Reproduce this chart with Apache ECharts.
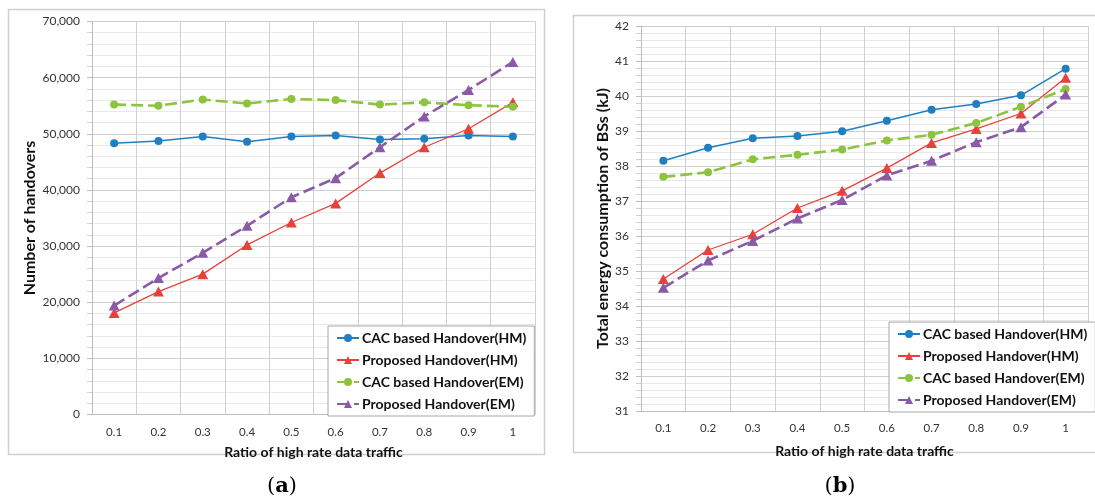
<!DOCTYPE html>
<html>
<head>
<meta charset="utf-8">
<script src="https://cdn.jsdelivr.net/npm/echarts@6/dist/echarts.min.js"></script>
<style>
html,body{margin:0;padding:0;background:#fff;}
#chart{width:1095px;height:500px;}
</style>
</head>
<body>
<div id="chart"></div>
<script>
// ---- data ----
var categories = ['0.1','0.2','0.3','0.4','0.5','0.6','0.7','0.8','0.9','1'];
var seriesNames = ['CAC based Handover(HM)','Proposed Handover(HM)','CAC based Handover(EM)','Proposed Handover(EM)'];

// (a) Number of handovers
var handoverCacHM  = [48300, 48700, 49500, 48600, 49500, 49700, 49000, 49100, 49700, 49500];
var handoverPropHM = [18100, 21900, 25000, 30200, 34200, 37600, 43000, 47600, 50900, 55600];
var handoverCacEM  = [55200, 55000, 56100, 55400, 56200, 56000, 55200, 55600, 55100, 54800];
var handoverPropEM = [19400, 24300, 28800, 33600, 38700, 42100, 47600, 53100, 57800, 62800];

// (b) Total energy consumption of BSs (kJ)
var energyCacHM  = [38.15, 38.52, 38.79, 38.86, 38.99, 39.29, 39.61, 39.77, 40.02, 40.78];
var energyPropHM = [34.77, 35.60, 36.05, 36.80, 37.29, 37.94, 38.66, 39.06, 39.50, 40.52];
var energyCacEM  = [37.69, 37.82, 38.19, 38.32, 38.47, 38.73, 38.89, 39.23, 39.69, 40.20];
var energyPropEM = [34.52, 35.30, 35.86, 36.50, 37.03, 37.73, 38.15, 38.68, 39.11, 40.04];

var xAxisName = 'Ratio of high rate data traffic';
var yNameA = 'Number of handovers';
var yNameB = 'Total energy consumption of BSs (kJ)';

// ---- styles ----
var FONT = 'Lato';
var colors = ['#1f7fc1', '#e5423b', '#8cc43f', '#8a5aa8'];
var styles = [
  {symbol:'circle', size:8, width:1.5, type:'solid'},
  {symbol:'triangle', size:[11,10], width:1.3, type:'solid'},
  {symbol:'circle', size:8, width:2.6, type:[12,5]},
  {symbol:'triangle', size:[11,10], width:2.6, type:[12,5]}
];

function makeSeries(data, idx, axisIdx) {
  var s = styles[idx];
  return {
    name: seriesNames[idx],
    type: 'line',
    xAxisIndex: axisIdx,
    yAxisIndex: axisIdx,
    data: data,
    symbol: s.symbol,
    symbolSize: s.size,
    showSymbol: true,
    animation: false,
    itemStyle: {color: colors[idx]},
    lineStyle: {color: colors[idx], width: s.width, type: s.type},
    z: 3 + idx
  };
}

function xAxis(gridIdx, labelMargin, nameGap) {
  return {
    type: 'category',
    gridIndex: gridIdx,
    data: categories,
    boundaryGap: true,
    name: xAxisName,
    nameLocation: 'middle',
    nameGap: nameGap,
    nameTextStyle: {fontFamily: FONT, fontWeight: 'bold', fontSize: 14, color: '#111'},
    axisLine: {show: true, lineStyle: {color: '#bdbdbd', width: 1}},
    axisTick: {show: false},
    axisLabel: {fontFamily: FONT, fontSize: 11.5, color: '#333', margin: labelMargin},
    splitLine: {show: true, lineStyle: {color: '#d0d0d0', width: 1}}
  };
}

function yAxis(gridIdx, min, max, interval, name, nameGap, labelMargin, fmt) {
  return {
    type: 'value',
    gridIndex: gridIdx,
    min: min, max: max, interval: interval,
    name: name,
    nameLocation: 'middle',
    nameGap: nameGap,
    nameRotate: 90,
    nameTextStyle: {fontFamily: FONT, fontWeight: 'bold', fontSize: 16, color: '#111'},
    axisLine: {show: true, lineStyle: {color: '#bdbdbd', width: 1}},
    axisTick: {show: true, inside: false, length: 5, lineStyle: {color: '#bdbdbd'}},
    minorTick: {show: true, splitNumber: 5, length: 5, lineStyle: {color: '#d0d0d0'}},
    axisLabel: {fontFamily: FONT, fontSize: 12, color: '#333', margin: labelMargin, formatter: fmt},
    splitLine: {show: true, lineStyle: {color: '#cfcfcf', width: 1}},
    minorSplitLine: {show: true, lineStyle: {color: '#e8e8e8', width: 1}}
  };
}

function legend(left, top) {
  return {
    orient: 'vertical',
    left: left, top: top,
    data: seriesNames,
    backgroundColor: '#fff',
    borderColor: '#a6a6a6',
    borderWidth: 1,
    borderRadius: 0,
    padding: [5, 8, 5, 8],
    itemGap: 8,
    itemWidth: 22,
    itemHeight: 10,
    textStyle: {fontFamily: FONT, fontWeight: 'bold', fontSize: 14, color: '#111', padding: [0,0,0,-2]},
    selectedMode: false
  };
}

var labelRich = {
  p: {fontFamily: 'DejaVu Serif', fontWeight: 'normal', fontSize: 21, color: '#000'},
  b: {fontFamily: 'DejaVu Serif', fontWeight: 'bold', fontSize: 21, color: '#000'}
};

var chart = echarts.init(document.getElementById('chart'), null, {renderer: 'canvas'});
chart.setOption({
  backgroundColor: '#fff',
  animation: false,
  graphic: [
    {type: 'rect', shape: {x: 8.5, y: 9.5, width: 536, height: 445}, style: {fill: 'none', stroke: '#cfcfcf', lineWidth: 1.5}, z: -1},
    {type: 'rect', shape: {x: 573.5, y: 15.5, width: 540, height: 437}, style: {fill: 'none', stroke: '#cfcfcf', lineWidth: 1.5}, z: -1}
  ],
  title: [
    {text: '{p|(}{b|a}{p|)}', left: 277, top: 471, textAlign: 'center', textStyle: {fontWeight: 'normal', rich: labelRich}},
    {text: '{p|(}{b|b}{p|)}', left: 835, top: 471, textAlign: 'center', textStyle: {fontWeight: 'normal', rich: labelRich}}
  ],
  grid: [
    {left: 92, top: 21.5, width: 443, height: 393, containLabel: false},
    {left: 641, top: 26, width: 447, height: 385, containLabel: false}
  ],
  xAxis: [xAxis(0, 12, 31), xAxis(1, 11, 33)],
  yAxis: [
    yAxis(0, 0, 70000, 10000, yNameA, 54, 12, function (v) { return v.toLocaleString('en-US'); }),
    yAxis(1, 31, 42, 1, yNameB, 28, 12, function (v) { return String(v); })
  ],
  legend: [legend(328, 326), legend(889, 322)],
  series: [
    makeSeries(handoverCacHM, 0, 0),
    makeSeries(handoverPropHM, 1, 0),
    makeSeries(handoverCacEM, 2, 0),
    makeSeries(handoverPropEM, 3, 0),
    makeSeries(energyCacHM, 0, 1),
    makeSeries(energyPropHM, 1, 1),
    makeSeries(energyCacEM, 2, 1),
    makeSeries(energyPropEM, 3, 1)
  ]
});
</script>
</body>
</html>
